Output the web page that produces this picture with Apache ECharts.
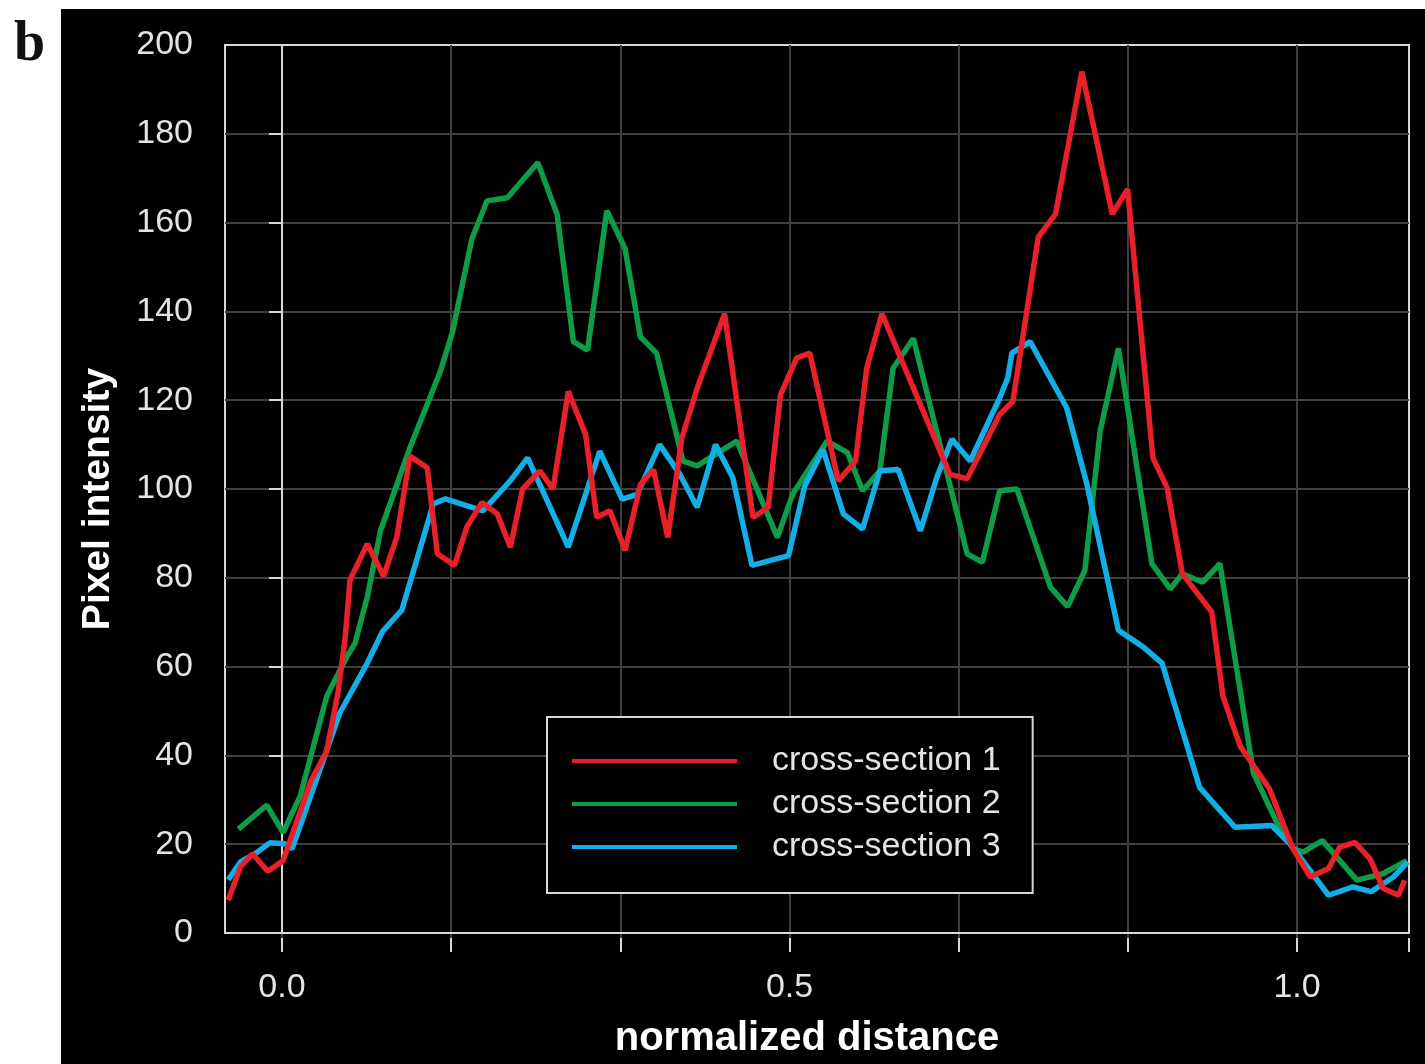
<!DOCTYPE html>
<html>
<head>
<meta charset="utf-8">
<script src="https://cdn.jsdelivr.net/npm/echarts@6/dist/echarts.min.js"></script>
<style>
  html, body { margin: 0; padding: 0; background: #fff; }
  #chart { width: 1425px; height: 1064px; }
</style>
</head>
<body>
<div id="chart"></div>
<script>
// line profiles (normalized distance, pixel intensity)
const seriesNames = ['cross-section 1', 'cross-section 2', 'cross-section 3'];

const dist1 = [-0.053,-0.041,-0.029,-0.014,0.001,0.028,0.044,0.055,0.062,0.067,0.084,0.100,0.113,0.126,0.143,0.153,0.170,0.182,0.197,0.212,0.225,0.237,0.254,0.267,0.282,0.299,0.310,0.323,0.338,0.353,0.366,0.380,0.394,0.409,0.436,0.464,0.479,0.491,0.507,0.520,0.548,0.565,0.576,0.591,0.658,0.675,0.707,0.720,0.745,0.762,0.788,0.818,0.833,0.858,0.872,0.887,0.916,0.927,0.944,0.973,0.996,1.013,1.031,1.042,1.057,1.072,1.085,1.100,1.106];
const cs1 = [7.4,14.9,17.8,13.9,16.3,34,41,54,66,79.5,87.6,80.4,89.1,107.4,104.8,85.4,82.8,91.4,97,94.4,86.9,100,104.1,100,122,112.3,93.6,95.1,86.2,101,104.4,89.1,111.5,122.7,139.5,93.6,95.9,121.2,129.5,130.6,101.8,106.3,127.2,139.5,103.3,102.3,116.8,119.7,156.7,161.9,194,161.9,167.5,107,100.3,80.9,72.3,53.3,42.1,32.4,19,12.6,14.5,19.3,20.4,16.7,10,8.5,11.9];

const dist2 = [-0.043,-0.015,0.001,0.018,0.044,0.064,0.072,0.084,0.097,0.126,0.156,0.168,0.187,0.202,0.222,0.252,0.271,0.287,0.301,0.320,0.338,0.353,0.369,0.395,0.409,0.448,0.488,0.503,0.537,0.557,0.572,0.589,0.602,0.622,0.675,0.690,0.707,0.724,0.757,0.774,0.791,0.806,0.824,0.857,0.875,0.887,0.907,0.924,0.937,0.957,0.980,0.996,1.006,1.025,1.059,1.085,1.108];
const cs2 = [23.4,28.8,22.6,30.9,53.3,62.3,65.3,75.7,90.6,109.3,126.5,135.4,156.3,164.9,165.6,173.5,161.9,133.2,131.3,162.7,154.1,134.3,130.6,106.3,105.2,110.8,89.1,98.8,110.8,108.2,99.6,104.1,127.2,133.9,85.4,83.5,99.6,100,77.9,73.5,81.7,113,131.7,83.2,77.5,80.9,79,83.2,64.5,36.1,24.9,19,18.2,20.8,11.9,13.4,16.3];

const dist3 = [-0.053,-0.041,-0.027,-0.012,0.003,0.010,0.057,0.084,0.099,0.118,0.149,0.161,0.198,0.225,0.242,0.282,0.313,0.335,0.350,0.372,0.392,0.409,0.427,0.444,0.463,0.499,0.515,0.533,0.553,0.572,0.589,0.607,0.629,0.645,0.660,0.678,0.707,0.715,0.719,0.737,0.773,0.793,0.824,0.848,0.867,0.904,0.939,0.975,0.993,1.031,1.055,1.073,1.095,1.109];
const cs3 = [12,16,17.8,20.3,20.1,19,49.6,60.8,67.9,72.7,96.6,97.8,95.1,101.9,107,86.9,108.5,97.7,98.8,110,103.3,95.9,110,102.6,82.8,85,100.7,108.9,94.4,91,104.1,104.4,90.6,102.6,111.2,106.3,120.5,125,130.6,133.2,118.3,101,68.2,64.5,60.8,32.8,23.8,24.2,20.1,8.5,10.4,9.3,12.6,16];

const xLabels = ['0.0', '0.5', '1.0'];

const red = '#e8202a', green = '#0e9c48', blue = '#14aee6';
const axisC = '#d8d8d8', gridC = '#404040', txtC = '#e4e4e4';
const ff = '"Liberation Sans", Arial, sans-serif';

function zip(xs, ys) {
  return xs.map((x, i) => [x, ys[i]]);
}

const chart = echarts.init(document.getElementById('chart'));

const option = {
  backgroundColor: '#000',
  animation: false,
  graphic: [
    { type: 'rect', shape: { x: 0, y: 0, width: 61, height: 1064 }, style: { fill: '#fff' } },
    { type: 'rect', shape: { x: 0, y: 0, width: 1425, height: 9 }, style: { fill: '#fff' } },
    { type: 'text', x: 14, y: 18, style: { text: 'b', font: 'bold 56px "Liberation Serif", "Times New Roman", serif', fill: '#111', verticalAlign: 'top' } }
  ],
  grid: [
    // data grid with the light frame
    { left: 225, right: 16, top: 45, bottom: 126, show: true, borderColor: axisC, borderWidth: 2, backgroundColor: 'transparent' },
    // helper grid starting at 0.0 for the vertical grid lines every 1/6
    { left: 282, right: 16, top: 45, bottom: 126 }
  ],
  xAxis: [
    {
      gridIndex: 0, type: 'value', min: -0.0562, max: 1.1103,
      axisLine: { show: true, onZero: false, lineStyle: { color: axisC, width: 2 } },
      axisTick: { show: false }, axisLabel: { show: false }, splitLine: { show: false },
      name: 'normalized distance', nameLocation: 'middle', nameGap: 86,
      nameTextStyle: { color: '#fff', fontSize: 40, fontWeight: 'bold', fontFamily: ff, padding: [0, 20, 0, 0] }
    },
    {
      gridIndex: 1, type: 'value', min: 0, max: 1.1103, interval: 1 / 6,
      axisLine: { show: false },
      axisTick: { show: true, length: 14, lineStyle: { color: axisC, width: 2 } },
      axisLabel: {
        margin: 33, color: txtC, fontSize: 34, fontFamily: ff,
        formatter: v => {
          const r = Math.round(v * 2) / 2;
          return Math.abs(v - r) < 1e-6 ? xLabels[r * 2] : '';
        }
      },
      splitLine: { show: true, showMaxLine: false, lineStyle: { color: gridC, width: 2 } }
    }
  ],
  yAxis: [
    {
      gridIndex: 0, type: 'value', min: 0, max: 200, interval: 20,
      axisLine: { show: true, lineStyle: { color: axisC, width: 2 } },
      axisTick: { show: true, length: 13, lineStyle: { color: axisC, width: 2 } },
      axisLabel: { margin: 32, color: txtC, fontSize: 34, fontFamily: ff },
      splitLine: { show: true, showMinLine: false, showMaxLine: false, lineStyle: { color: gridC, width: 2 } },
      name: 'Pixel intensity', nameLocation: 'middle', nameGap: 107, nameRotate: 90,
      nameTextStyle: { color: '#fff', fontSize: 39, fontWeight: 'bold', fontFamily: ff, padding: [0, 20, 0, 0] }
    },
    { gridIndex: 1, type: 'value', min: 0, max: 200, show: false }
  ],
  legend: {
    data: seriesNames, orient: 'vertical', left: 547, top: 717,
    padding: [27, 32, 29, 23], itemWidth: 165, itemHeight: 34, itemGap: 9,
    backgroundColor: '#000', borderColor: axisC, borderWidth: 2, borderRadius: 0,
    selectedMode: false,
    lineStyle: { width: 4 },
    itemStyle: { opacity: 0 },
    formatter: '{t|{name}}',
    textStyle: {
      color: txtC, fontSize: 34, fontFamily: ff,
      rich: { t: { color: txtC, fontSize: 34, fontFamily: ff, padding: [0, 0, 0, 30] } }
    }
  },
  series: [
    { name: seriesNames[0], type: 'line', data: zip(dist1, cs1), symbol: 'none', z: 4,
      lineStyle: { color: red, width: 5.5 }, itemStyle: { color: red } },
    { name: seriesNames[1], type: 'line', data: zip(dist2, cs2), symbol: 'none', z: 2,
      lineStyle: { color: green, width: 5.5 }, itemStyle: { color: green } },
    { name: seriesNames[2], type: 'line', data: zip(dist3, cs3), symbol: 'none', z: 3,
      lineStyle: { color: blue, width: 5.5 }, itemStyle: { color: blue } }
  ]
};

chart.setOption(option);
</script>
</body>
</html>
